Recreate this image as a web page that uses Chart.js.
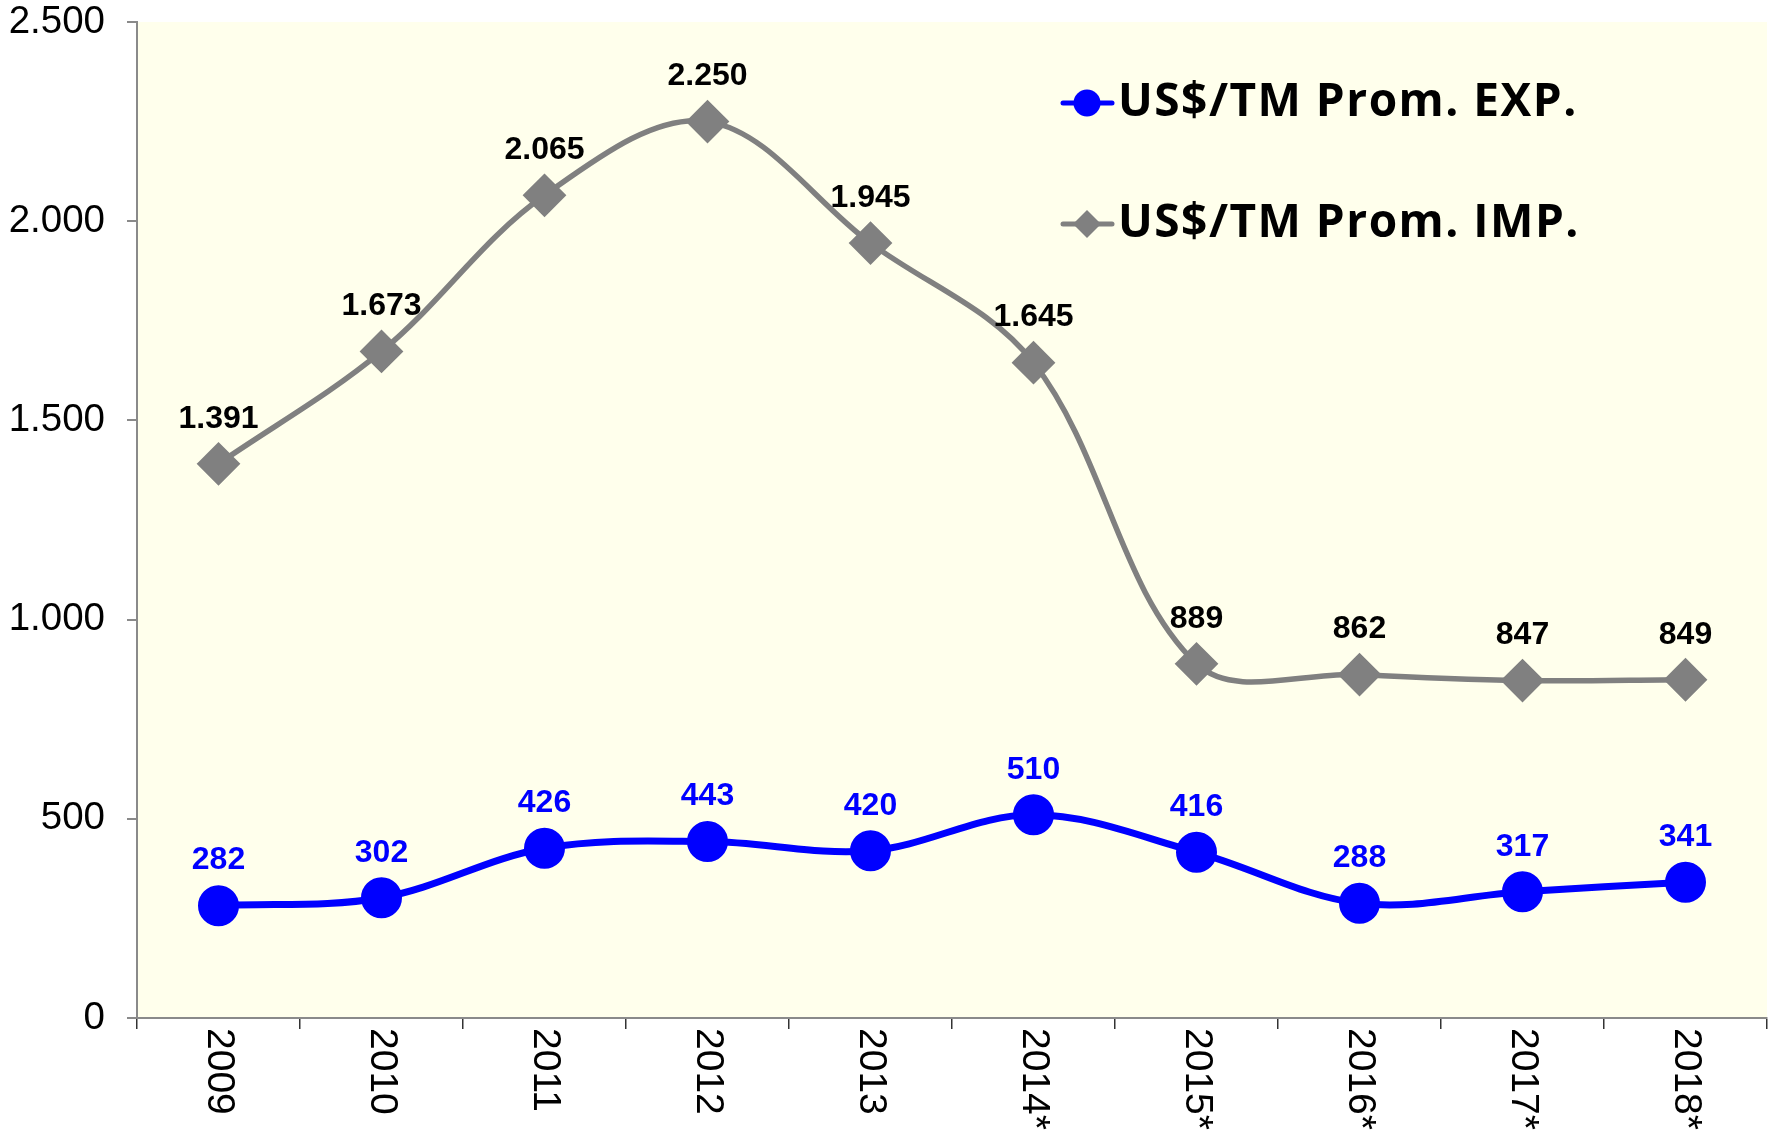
<!DOCTYPE html>
<html lang="es">
<head>
  <meta charset="UTF-8">
  <title>US$/TM Prom. EXP. / IMP.</title>
  <script src="https://cdn.jsdelivr.net/npm/chart.js"></script>
  <style>
    body { margin: 0; background: #fff; }
    #wrap { width: 1773px; height: 1130px; }
  </style>
</head>
<body>
  <div id="wrap"><canvas id="chart" width="1773" height="1130"></canvas></div>
  <script>
    // data
    const years = ['2009', '2010', '2011', '2012', '2013', '2014*', '2015*', '2016*', '2017*', '2018*'];
    const expValues = [282, 302, 426, 443, 420, 510, 416, 288, 317, 341];
    const impValues = [1391, 1673, 2065, 2250, 1945, 1645, 889, 862, 847, 849];
    const seriesNames = ['US$/TM Prom. EXP.', 'US$/TM Prom. IMP.'];
    const yTicks = [0, 500, 1000, 1500, 2000, 2500];

    const BLUE = '#0000ff';
    const GRAY = '#808080';
    const AXIS = '#8a8a8a';

    // 1391 -> "1.391"
    function fmt(v) {
      return String(v).replace(/\B(?=(\d{3})+(?!\d))/g, '.');
    }

    const bgPlugin = {
      id: 'bg',
      beforeDraw(chart) {
        const a = chart.chartArea;
        const ctx = chart.ctx;
        ctx.save();
        ctx.fillStyle = '#ffffec';
        ctx.fillRect(a.left, a.top, a.right - a.left, a.bottom - a.top);
        ctx.restore();
      }
    };

    const valueLabels = {
      id: 'valueLabels',
      afterDatasetsDraw(chart) {
        const ctx = chart.ctx;
        ctx.save();
        ctx.font = 'bold 32px "Liberation Sans", Arial, sans-serif';
        ctx.textAlign = 'center';
        ctx.textBaseline = 'middle';
        chart.data.datasets.forEach((ds, i) => {
          const meta = chart.getDatasetMeta(i);
          ctx.fillStyle = ds.labelColor;
          meta.data.forEach((pt, j) => {
            ctx.fillText(fmt(ds.data[j]), pt.x, pt.y - 45);
          });
        });
        ctx.restore();
      }
    };

    // x labels rotated clockwise, reading top to bottom
    const xLabels = {
      id: 'xLabels',
      afterDraw(chart) {
        const xs = chart.scales.x;
        const ctx = chart.ctx;
        ctx.save();
        ctx.font = '39px "Liberation Sans", Arial, sans-serif';
        ctx.fillStyle = '#000';
        ctx.textAlign = 'left';
        ctx.textBaseline = 'middle';
        years.forEach((y, i) => {
          const px = xs.getPixelForValue(i);
          ctx.save();
          ctx.translate(px, xs.top + 10);
          ctx.rotate(Math.PI / 2);
          ctx.fillText(y, 0, 0);
          ctx.restore();
        });
        ctx.restore();
      }
    };

    const innerLegend = {
      id: 'innerLegend',
      afterDraw(chart) {
        const ctx = chart.ctx;
        const rows = [103, 224];
        ctx.save();
        chart.data.datasets.forEach((ds, i) => {
          const y = rows[i];
          ctx.strokeStyle = ds.borderColor;
          ctx.lineWidth = 5;
          ctx.lineCap = 'round';
          ctx.beginPath();
          ctx.moveTo(1063, y);
          ctx.lineTo(1112, y);
          ctx.stroke();
          ctx.fillStyle = ds.borderColor;
          ctx.beginPath();
          if (ds.pointStyle === 'circle') {
            ctx.arc(1087, y, 13.5, 0, Math.PI * 2);
          } else {
            ctx.moveTo(1087, y - 14);
            ctx.lineTo(1101, y);
            ctx.lineTo(1087, y + 14);
            ctx.lineTo(1073, y);
            ctx.closePath();
          }
          ctx.fill();
          ctx.fillStyle = '#000';
          ctx.font = 'bold 46px "Open Sans", sans-serif';
          ctx.letterSpacing = '1.5px';
          ctx.textAlign = 'left';
          ctx.textBaseline = 'middle';
          ctx.fillText(ds.label, 1118, y);
          ctx.letterSpacing = '0px';
        });
        ctx.restore();
      }
    };

    new Chart(document.getElementById('chart'), {
      type: 'line',
      data: {
        labels: years,
        datasets: [
          {
            label: seriesNames[0],
            data: expValues,
            borderColor: BLUE,
            backgroundColor: BLUE,
            labelColor: BLUE,
            borderWidth: 7,
            pointStyle: 'circle',
            pointRadius: 17,
            pointHoverRadius: 17,
            tension: 0.35
          },
          {
            label: seriesNames[1],
            data: impValues,
            borderColor: GRAY,
            backgroundColor: GRAY,
            labelColor: '#000',
            borderWidth: 5.5,
            pointStyle: 'rectRot',
            pointRadius: 18,
            pointHoverRadius: 18,
            tension: 0.35
          }
        ]
      },
      options: {
        responsive: false,
        animation: false,
        layout: { autoPadding: false, padding: { top: 22, right: 6, left: 0, bottom: 0 } },
        plugins: {
          legend: { display: false },
          tooltip: { enabled: false }
        },
        scales: {
          x: {
            offset: true,
            grid: { offset: true, drawOnChartArea: false, tickLength: 11, color: '#333', lineWidth: 1.5 },
            border: { color: AXIS, width: 2 },
            ticks: { autoSkip: false, maxRotation: 0, callback: () => '' },
            afterFit(s) { s.height = 112; }
          },
          y: {
            min: 0,
            max: 2500,
            afterBuildTicks(s) { s.ticks = yTicks.map(v => ({ value: v })); },
            grid: { drawOnChartArea: false, tickLength: 10, color: AXIS, lineWidth: 2 },
            border: { color: AXIS, width: 2 },
            ticks: {
              padding: 22,
              color: '#000',
              font: { family: '"Liberation Sans", Arial, sans-serif', size: 38.5 },
              callback: v => fmt(v)
            },
            afterFit(s) {
              s.width = 137;
              s.paddingTop = 0;
              s.paddingBottom = 0;
            }
          }
        }
      },
      plugins: [bgPlugin, valueLabels, xLabels, innerLegend]
    });
  </script>
</body>
</html>
